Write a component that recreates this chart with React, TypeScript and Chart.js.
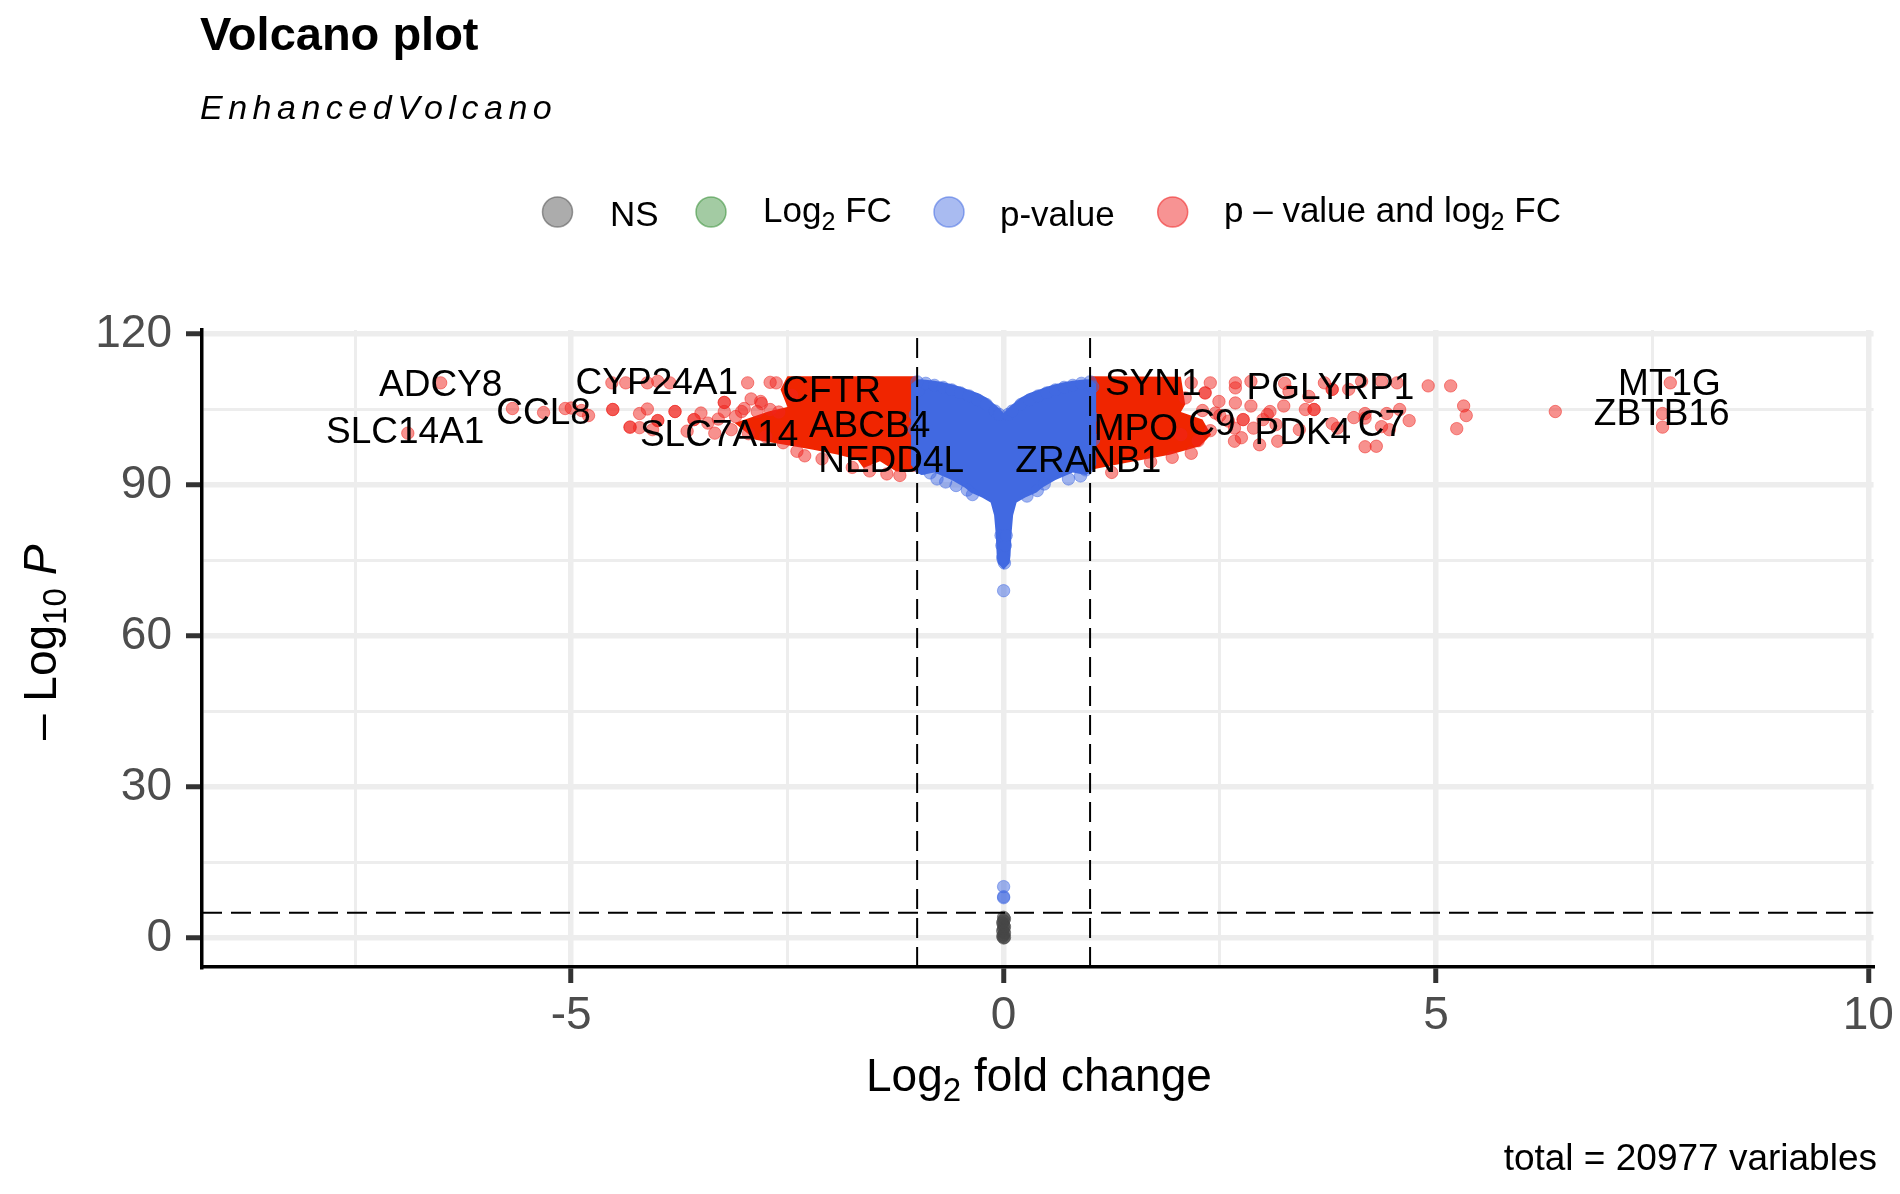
import React, { useEffect, useRef } from "react";
import { Chart, registerables } from "chart.js";

Chart.register(...registerables);

const FONT = '"Liberation Sans", Arial, sans-serif';

const xRange = [-9.27, 10.06];
const yRange = [-5.77, 120.8];
const fcCutoff = [-1, 1];
const pCutoff = 5;

// Grey (not significant) points
const greyX = [0, 0.01, -0.01, 0, 0.01, -0.01, 0, 0.01, 0, -0.01, 0, 0.01, 0];
const greyY = [0, 0.1, 0.3, 0.6, 1, 1.4, 1.8, 2.2, 2.6, 3, 3.4, 3.8, 4.1];

// Individually visible blue points
const blueX = [0, 0, 0, 0, 0.01, -0.01, -0.02, 0.02, -0.55, -0.42, -0.36, -0.77, -0.67, 0.39, 0.89, 0.27, 0.47, 0.75, -0.98, -1.02, -1.03, -0.97, 1.03, 1.04, 0.98, 1.02, -0.9, -0.8, -0.7, -0.6, -0.5, -0.4, -0.3, -0.2, -0.1, -0.05, 0.05, 0.1, 0.2, 0.3, 0.4, 0.5, 0.6, 0.7, 0.8, 0.9, 1.0, -1.0, -0.93, 0.95, -0.85, -0.03, 0.03];
const blueY = [69, 10.2, 8.2, 8, 74.5, 75.5, 78, 78, 89.9, 89, 88.1, 91.2, 90.6, 88.9, 91.8, 87.8, 90.2, 91.2, 108.8, 104, 101, 93.5, 109.5, 99, 95, 103.5, 110.2, 109.8, 109.4, 108.9, 108.3, 107.7, 106.9, 106, 104.7, 104, 104, 104.7, 106, 106.9, 107.7, 108.3, 108.9, 109.4, 109.8, 110.2, 110.5, 110.5, 93.3, 93, 92.4, 80, 80];

// Outline of the solid blue cloud, clockwise from the central notch
const blueBodyX = [0, 0.05, 0.1, 0.2, 0.3, 0.4, 0.5, 0.6, 0.7, 0.8, 0.9, 1.0, 1.07, 1.07, 1.07, 1.0, 0.95, 0.8, 0.6, 0.45, 0.38, 0.25, 0.15, 0.11, 0.09, 0.08, 0.07, 0, -0.07, -0.08, -0.09, -0.11, -0.15, -0.25, -0.38, -0.45, -0.6, -0.8, -0.95, -1.0, -1.07, -1.07, -1.07, -1.0, -0.9, -0.8, -0.7, -0.6, -0.5, -0.4, -0.3, -0.2, -0.1, -0.05];
const blueBodyY = [104.3, 105.2, 106, 107.4, 108.3, 108.9, 109.5, 110, 110.4, 110.7, 110.9, 111, 110, 100, 94, 92.5, 92, 92.5, 91, 89.5, 88.5, 87.5, 86.5, 84, 80, 76, 74.5, 73.2, 74.5, 76, 80, 84, 86.5, 87.5, 88.5, 89.5, 91, 92.5, 92, 92.5, 94, 100, 110, 111, 110.9, 110.7, 110.4, 110, 109.5, 108.9, 108.3, 107.4, 106, 105.2];

// Outlines of the solid red clouds
const redLeftX = [-1, -2.5, -2.58, -2.5, -2.72, -3.11, -2.87, -2.43, -2.2, -1.91, -1.69, -1.62, -1.43, -1.24, -1];
const redLeftY = [111.6, 111.6, 109, 105.5, 104.6, 102.3, 99, 97.7, 97, 96, 95, 93.4, 94.7, 92.7, 92.7];
const redRightX = [1, 2.05, 2.1, 2.05, 2.3, 2.4, 2.27, 1.92, 1.42, 1.11, 1];
const redRightY = [111.6, 111.5, 106, 104.5, 103, 100, 97.7, 96, 94.4, 93.4, 93];

// Individually visible red points
const redLeftPtsX = [-6.51, -6.89, -5.68, -5.32, -5.07, -5, -4.8, -4.88, -4.52, -4.52, -4.32, -4.32, -4.21, -4.21, -4.12, -4, -4, -4.06, -3.8, -3.8, -3.58, -3.58, -3.66, -3.42, -3.34, -3.15, -4.53, -4.37, -4.12, -4, -3.86, -2.96, -2.7, -2.63, -3.23, -3.23, -3.23, -2.92, -2.81, -3.03, -2.85, -2.7, -2.39, -3.1, -2.95, -2.75, -2.55, -2.45, -2.3, -2.1, -1.75, -1.55, -1.35, -1.2, -3.5, -3.3, -3.0, -2.8, -2.6];
const redLeftPtsY = [110.3, 100.3, 105.2, 104.4, 105.2, 105.3, 103.8, 104.8, 105, 105, 101.5, 101.5, 101.4, 104.2, 105.1, 102.8, 102.8, 101, 104.6, 104.6, 103, 103, 100.7, 102.3, 100.3, 101, 110.3, 110.3, 110.3, 110.6, 110.3, 110.3, 110.4, 110.3, 106.4, 106.4, 104.6, 107.1, 106.6, 104.6, 104.6, 105, 96.7, 103.6, 100.2, 99.6, 98.4, 107.8, 95.8, 95.2, 93.5, 92.8, 92.2, 91.9, 104.3, 103.1, 105.2, 106.2, 104.5];
const redRightPtsX = [7.71, 7.62, 7.62, 6.38, 5.32, 5.35, 5.24, 4.91, 5.17, 4.69, 4.58, 4.43, 4.18, 4.18, 4.46, 4.37, 4.18, 4.31, 4.55, 4.37, 4.14, 3.99, 3.8, 3.8, 3.71, 3.8, 3.86, 3.49, 3.59, 3.59, 3.53, 3.3, 3.42, 3.17, 2.96, 2.67, 2.39, 2.17, 2.68, 2.68, 2.86, 2.1, 2.33, 2.33, 2.49, 2.68, 2.86, 3.08, 3.24, 3.05, 2.77, 2.77, 2.6, 2.89, 2.67, 2.39, 2.17, 2.5, 2.75, 3.0, 3.15, 1.95, 1.7, 1.25, 2.25, 2.05, 2.3, 2.45, 3.25, 4.05];
const redRightPtsY = [110.3, 104.2, 101.5, 104.6, 105.7, 103.8, 101.2, 109.7, 109.7, 102.8, 105, 104.2, 103.3, 104.2, 101, 101.6, 97.6, 97.7, 110.3, 110.6, 110.6, 109, 109, 109, 110.3, 102.2, 101.3, 105, 105, 105, 107.6, 108.6, 101, 98.7, 98, 98.7, 110.3, 110.3, 110.3, 109.3, 110.6, 107.3, 108.3, 108.3, 106.6, 106.3, 105.7, 104.6, 105.7, 104, 103, 103, 102.7, 101.3, 101.3, 100.8, 96.3, 103.8, 99.4, 103, 102, 95.5, 94.6, 92.5, 98.8, 100, 104.8, 104.3, 110.2, 103.4];

// Gene labels, at data positions
const labelNames = ["ADCY8", "CCL8", "SLC14A1", "CYP24A1", "CFTR", "SLC7A14", "ABCB4", "NEDD4L", "SYN1", "PGLYRP1", "MT1G", "ZBTB16", "MPO", "C9", "PDK4", "C7", "ZRANB1"];
const labelX = [-6.51, -5.32, -6.92, -4.01, -1.99, -3.29, -1.55, -1.3, 1.73, 3.78, 7.7, 7.61, 1.53, 2.41, 3.46, 4.37, 0.98];
const labelY = [109.8, 104.2, 100.3, 110.1, 108.6, 99.7, 101.6, 94.7, 109.9, 109.1, 109.9, 104, 100.9, 102, 100.1, 101.8, 94.7];

const xTickLabels = [-5, 0, 5, 10];
const yTickLabels = [0, 30, 60, 90, 120];

const zip = (xs: number[], ys: number[]) => xs.map((x, i) => ({ x, y: ys[i] }));

type Run = { t: string; sub?: boolean; italic?: boolean };

function drawRuns(ctx: CanvasRenderingContext2D, runs: Run[], x: number, y: number, size: number, color: string) {
  let cx = x;
  ctx.fillStyle = color;
  ctx.textAlign = "left";
  ctx.textBaseline = "alphabetic";
  for (const r of runs) {
    const s = r.sub ? size * 0.72 : size;
    ctx.font = `${r.italic ? "italic " : ""}${s}px ${FONT}`;
    ctx.fillText(r.t, cx, r.sub ? y + size * 0.22 : y);
    cx += ctx.measureText(r.t).width;
  }
}

const textPlugin = {
  id: "volcanoText",
  afterDatasetsDraw(chart: any) {
    const { ctx, scales } = chart;
    ctx.save();
    ctx.font = `37px ${FONT}`;
    ctx.fillStyle = "#000";
    ctx.textAlign = "center";
    ctx.textBaseline = "middle";
    labelNames.forEach((n, i) => {
      ctx.fillText(n, scales.x.getPixelForValue(labelX[i]), scales.y.getPixelForValue(labelY[i]));
    });
    ctx.restore();
  },
  afterDraw(chart: any) {
    const { ctx } = chart;
    ctx.save();
    ctx.fillStyle = "#000";
    ctx.textAlign = "left";
    ctx.textBaseline = "alphabetic";
    ctx.font = `bold 47px ${FONT}`;
    ctx.fillText("Volcano plot", 200, 50);
    ctx.font = `italic 34px ${FONT}`;
    (ctx as any).letterSpacing = "5.5px";
    ctx.fillText("EnhancedVolcano", 200, 119);
    (ctx as any).letterSpacing = "0px";

    const swatches: [number, string, string][] = [
      [557.5, "rgba(90,90,90,0.5)", "rgba(90,90,90,0.6)"],
      [711, "rgba(50,140,50,0.45)", "rgba(50,140,50,0.55)"],
      [949, "rgba(65,105,225,0.45)", "rgba(65,105,225,0.55)"],
      [1172.7, "rgba(240,40,40,0.5)", "rgba(240,40,40,0.6)"],
    ];
    swatches.forEach(([x, fill, stroke]) => {
      ctx.beginPath();
      ctx.arc(x, 212, 15, 0, Math.PI * 2);
      ctx.fillStyle = fill;
      ctx.fill();
      ctx.lineWidth = 1.5;
      ctx.strokeStyle = stroke;
      ctx.stroke();
    });
    drawRuns(ctx, [{ t: "NS" }], 610, 226, 35, "#000");
    drawRuns(ctx, [{ t: "Log" }, { t: "2", sub: true }, { t: " FC" }], 763, 222, 35, "#000");
    drawRuns(ctx, [{ t: "p-value" }], 1000, 226, 35, "#000");
    drawRuns(ctx, [{ t: "p – value and log" }, { t: "2", sub: true }, { t: " FC" }], 1224, 222, 35, "#000");

    drawRuns(ctx, [{ t: "Log" }, { t: "2", sub: true }, { t: " fold change" }], 866, 1091, 46, "#000");

    ctx.save();
    ctx.translate(56, 740);
    ctx.rotate(-Math.PI / 2);
    drawRuns(ctx, [{ t: "– Log" }, { t: "10", sub: true }, { t: " " }, { t: "P", italic: true }], 0, 0, 46, "#000");
    ctx.restore();

    ctx.font = `37px ${FONT}`;
    ctx.fillStyle = "#000";
    ctx.textAlign = "right";
    ctx.fillText("total = 20977 variables", 1877, 1170);
    ctx.restore();
  },
};

const pointStyle = (rgba: string, order: number) => ({
  backgroundColor: rgba,
  borderColor: rgba,
  borderWidth: 1,
  pointRadius: 6.2,
  showLine: false,
  order,
});

const bodyStyle = (color: string, order: number) => ({
  backgroundColor: color,
  borderColor: color,
  borderWidth: 0,
  pointRadius: 0,
  showLine: true,
  fill: "shape",
  tension: 0,
  order,
});

const dashStyle = {
  borderColor: "#000",
  borderWidth: 2,
  borderDash: [20, 9],
  pointRadius: 0,
  showLine: true,
  fill: false,
  order: 0,
};

const isIn = (v: number, list: number[]) => list.some((t) => Math.abs(t - v) < 1e-6);

function axisGrid(list: number[]) {
  return {
    color: "#ededed",
    lineWidth: (c: any) => (isIn(c.tick?.value, list) ? 5.5 : 3),
    tickColor: (c: any) => (isIn(c.tick?.value, list) ? "#333333" : "rgba(0,0,0,0)"),
    tickWidth: (c: any) => (isIn(c.tick?.value, list) ? 5 : 0),
    tickLength: 16,
    drawTicks: true,
  };
}

export default function App() {
  const ref = useRef<HTMLCanvasElement>(null);
  useEffect(() => {
    const chart = new Chart(ref.current!, {
      type: "scatter",
      data: {
        datasets: [
          { label: "NS", data: zip(greyX, greyY), ...pointStyle("rgba(70,70,70,0.6)", 1) },
          { label: "p-value", data: zip(blueX, blueY), ...pointStyle("rgba(65,105,225,0.5)", 2) },
          { label: "p-value cloud", data: zip(blueBodyX, blueBodyY), ...bodyStyle("#4169e1", 3) },
          { label: "p - value and log2 FC", data: zip(redLeftPtsX, redLeftPtsY), ...pointStyle("rgba(240,35,30,0.5)", 4) },
          { label: "p - value and log2 FC (right)", data: zip(redRightPtsX, redRightPtsY), ...pointStyle("rgba(240,35,30,0.5)", 4) },
          { label: "red cloud left", data: zip(redLeftX, redLeftY), ...bodyStyle("#f02500", 5) },
          { label: "red cloud right", data: zip(redRightX, redRightY), ...bodyStyle("#f02500", 5) },
          { label: "FC low", data: zip([fcCutoff[0], fcCutoff[0]], yRange), ...dashStyle },
          { label: "FC high", data: zip([fcCutoff[1], fcCutoff[1]], yRange), ...dashStyle },
          { label: "P cutoff", data: zip(xRange, [pCutoff, pCutoff]), ...dashStyle },
        ] as any,
      },
      options: {
        responsive: false,
        animation: false,
        layout: { padding: { left: 0, top: 330, right: 24, bottom: 0 } },
        plugins: { legend: { display: false }, title: { display: false }, tooltip: { enabled: false } },
        scales: {
          x: {
            type: "linear",
            min: xRange[0],
            max: xRange[1],
            afterFit: (s: any) => { s.height = 227; },
            border: { color: "#000", width: 3.5 },
            grid: axisGrid(xTickLabels),
            ticks: {
              stepSize: 2.5,
              includeBounds: false,
              autoSkip: false,
              maxRotation: 0,
              padding: 6,
              color: "#4d4d4d",
              font: { family: FONT, size: 46 },
              callback: (v: any) => (isIn(Number(v), xTickLabels) ? String(v) : ""),
            },
          },
          y: {
            type: "linear",
            min: yRange[0],
            max: yRange[1],
            afterFit: (s: any) => { s.width = 202; },
            border: { color: "#000", width: 3.5 },
            grid: axisGrid(yTickLabels),
            ticks: {
              stepSize: 15,
              includeBounds: false,
              autoSkip: false,
              padding: 14,
              color: "#4d4d4d",
              font: { family: FONT, size: 46 },
              callback: (v: any) => (isIn(Number(v), yTickLabels) ? String(v) : ""),
            },
          },
        },
      } as any,
      plugins: [textPlugin],
    });
    return () => chart.destroy();
  }, []);
  return (
    <canvas
      ref={ref}
      width={1900}
      height={1194}
      style={{ position: "absolute", left: 0, top: 0, width: 1900, height: 1194, display: "block" }}
    />
  );
}
